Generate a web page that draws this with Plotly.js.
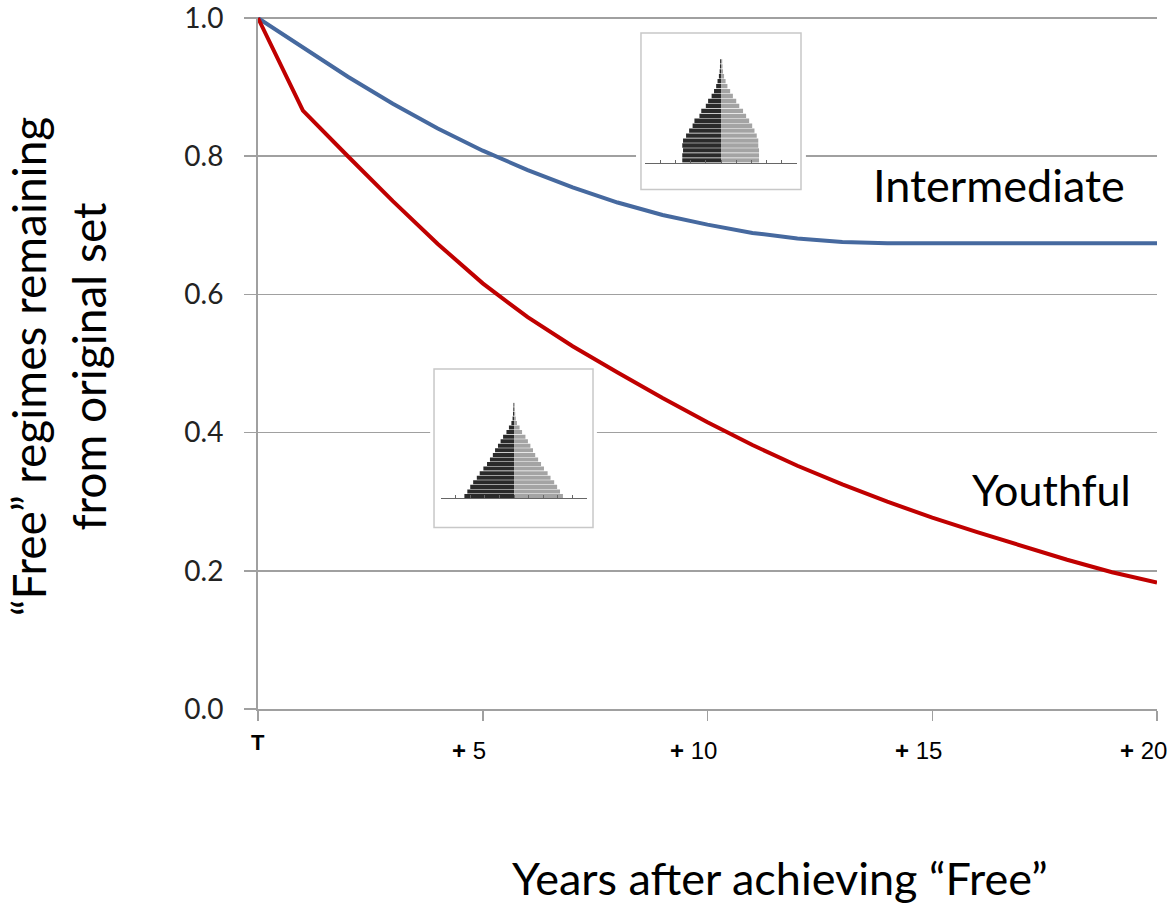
<!DOCTYPE html>
<html>
<head>
<meta charset="utf-8">
<script src="https://cdn.plot.ly/plotly-3.0.1.min.js"></script>
<style>html,body{margin:0;padding:0;background:#fff;}#chart{width:1167px;height:908px;}</style>
</head>
<body>
<div id="chart"></div>
<script>
// ---- Data ----
const years = [0,1,2,3,4,5,6,7,8,9,10,11,12,13,14,15,16,17,18,19,20];
const intermediate = [1.000,0.957,0.915,0.876,0.840,0.808,0.780,0.755,0.733,0.715,0.701,0.689,0.681,0.676,0.674,0.674,0.674,0.674,0.674,0.674,0.674];
const youthful = [1.000,0.866,0.800,0.735,0.673,0.616,0.567,0.525,0.487,0.450,0.415,0.382,0.352,0.325,0.300,0.277,0.256,0.236,0.216,0.198,0.183];
const seriesNames = ['Intermediate','Youthful'];

const xTickVals = [0,5,10,15,20];
const xTickText = ['T','+ 5','+ 10','+ 15','+ 20'];
const yTickVals = [0,0.2,0.4,0.6,0.8,1.0];
const yTickText = ['0.0','0.2','0.4','0.6','0.8','1.0'];

const xTitle = 'Years after achieving \u201cFree\u201d';
const yTitle = '\u201cFree\u201d regimes remaining<br>from original set';

// population pyramids (age groups, bottom to top), share in arbitrary %
const ageGroups = ['0-4','5-9','10-14','15-19','20-24','25-29','30-34','35-39','40-44','45-49','50-54','55-59','60-64','65-69','70-74','75-79','80-84','85-89','90-94','95-99','100+'];
const youthMale   = [3.40,3.20,3.00,2.80,2.55,2.35,2.10,1.85,1.65,1.45,1.30,1.10,0.92,0.75,0.52,0.35,0.18,0.10,0.07,0.05,0.04];
const youthFemale = [3.35,3.15,2.95,2.75,2.50,2.30,2.05,1.85,1.65,1.45,1.30,1.12,0.95,0.78,0.55,0.38,0.20,0.12,0.08,0.06,0.05];
const interMale   = [2.55,2.55,2.50,2.55,2.50,2.30,2.10,1.87,1.75,1.42,1.30,1.00,0.85,0.62,0.46,0.32,0.23,0.14,0.09,0.07,0.06];
const interFemale = [2.50,2.50,2.50,2.45,2.45,2.35,2.20,2.05,1.85,1.65,1.45,1.20,1.00,0.78,0.60,0.42,0.30,0.20,0.13,0.10,0.08];

// ---- Styles ----
const FONT = 'Lato, "Open Sans", sans-serif';
const GRID = '#a0a0a0';
const BLUE = '#46699f';
const RED = '#c00000';
const MALE = '#2a2a2a';
const FEMALE = '#a4a4a4';

const traces = [
  {x: years, y: intermediate, name: seriesNames[0], type: 'scatter', mode: 'lines',
   line: {color: BLUE, width: 4}, xaxis: 'x', yaxis: 'y', hoverinfo: 'x+y+name'},
  {x: years, y: youthful, name: seriesNames[1], type: 'scatter', mode: 'lines',
   line: {color: RED, width: 4}, xaxis: 'x', yaxis: 'y', hoverinfo: 'x+y+name'},
  // youthful pyramid
  {y: ageGroups, x: youthMale.map(v => -v), type: 'bar', orientation: 'h', marker: {color: MALE},
   xaxis: 'x2', yaxis: 'y2', showlegend: false, hoverinfo: 'skip'},
  {y: ageGroups, x: youthFemale, type: 'bar', orientation: 'h', marker: {color: FEMALE},
   xaxis: 'x2', yaxis: 'y2', showlegend: false, hoverinfo: 'skip'},
  // intermediate pyramid
  {y: ageGroups, x: interMale.map(v => -v), type: 'bar', orientation: 'h', marker: {color: MALE},
   xaxis: 'x3', yaxis: 'y3', showlegend: false, hoverinfo: 'skip'},
  {y: ageGroups, x: interFemale, type: 'bar', orientation: 'h', marker: {color: FEMALE},
   xaxis: 'x3', yaxis: 'y3', showlegend: false, hoverinfo: 'skip'}
];

const tickFont = {family: '"Liberation Sans", Arial, sans-serif', size: 24, color: '#000'};
const annotations = xTickText.map((t, i) => ({
  x: xTickVals[i], y: 0, xref: 'x', yref: 'y',
  text: i === 0 ? '<b>' + t + '</b>' : t.replace('+', '<b>+</b>'),
  showarrow: false, xanchor: 'center', yanchor: 'middle',
  xshift: i === 0 ? 0 : -14, yshift: i === 0 ? -33 : -41,
  font: i === 0 ? {family: '"Liberation Sans", Arial, sans-serif', size: 22, color: '#000'} : tickFont
}));

annotations.push(
  {x: 13.64, y: 0.758, xref: 'x', yref: 'y', text: seriesNames[0], showarrow: false,
   xanchor: 'left', yanchor: 'middle', font: {family: FONT, size: 45, color: '#000'}},
  {x: 15.85, y: 0.318, xref: 'x', yref: 'y', text: seriesNames[1], showarrow: false,
   xanchor: 'left', yanchor: 'middle', font: {family: FONT, size: 43, color: '#000'}},
  {x: -0.2215, y: 0.495, xref: 'paper', yref: 'paper', text: yTitle, showarrow: false,
   textangle: -90, xanchor: 'center', yanchor: 'middle', align: 'center',
   font: {family: FONT, size: 46, color: '#000'}},
  {x: 0.5807, y: -0.2435, xref: 'paper', yref: 'paper', text: xTitle, showarrow: false,
   xanchor: 'center', yanchor: 'middle', font: {family: FONT, size: 45, color: '#000'}}
);

const shapes = [
  // white covers behind the insets (hide gridlines)
  {type: 'rect', xref: 'x', yref: 'y', x0: 8.41, x1: 12.19, y0: 0.7446, y1: 0.9856,
   fillcolor: '#fff', line: {width: 0}, layer: 'between'},
  {type: 'rect', xref: 'x', yref: 'y', x0: 3.83, x1: 7.54, y0: 0.2569, y1: 0.4978,
   fillcolor: '#fff', line: {width: 0}, layer: 'between'},
  // inset frames
  {type: 'rect', xref: 'x', yref: 'y', x0: 8.52, x1: 12.08, y0: 0.7518, y1: 0.9784,
   fillcolor: 'rgba(0,0,0,0)', line: {color: '#c8c8c8', width: 1.5}, layer: 'between'},
  {type: 'rect', xref: 'x', yref: 'y', x0: 3.916, x1: 7.453, y0: 0.2626, y1: 0.4921,
   fillcolor: 'rgba(0,0,0,0)', line: {color: '#c8c8c8', width: 1.5}, layer: 'between'}
];

const insetX = {range: [-5, 5], dtick: 1, tick0: 0, showgrid: false, zeroline: false, showticklabels: false,
  ticks: 'inside', ticklen: 3, tickcolor: '#666', showline: true, linecolor: '#666', linewidth: 1, fixedrange: true};
const insetY = {type: 'category', visible: false, showgrid: false, fixedrange: true};

const layout = {
  width: 1167, height: 908,
  margin: {l: 258, r: 10, t: 17, b: 199},
  paper_bgcolor: '#fff', plot_bgcolor: '#fff',
  showlegend: false,
  barmode: 'relative', bargap: 0.12,
  xaxis: {range: [0, 20], tickvals: xTickVals, ticktext: xTickText, showticklabels: false,
    ticks: 'outside', ticklen: 10, tickwidth: 1.5, tickcolor: GRID,
    showline: true, linecolor: GRID, linewidth: 2, showgrid: false, zeroline: false},
  yaxis: {range: [0, 1.0015], tickvals: yTickVals, ticktext: yTickText,
    ticks: 'outside', ticklen: 12, tickwidth: 1.5, tickcolor: GRID, ticklabelstandoff: 15,
    ticklabeloverflow: 'allow',
    tickfont: {family: FONT, size: 28, color: '#222'},
    showline: true, linecolor: GRID, linewidth: 2,
    showgrid: true, gridcolor: GRID, gridwidth: 1.5, zeroline: false},
  xaxis2: Object.assign({domain: [0.2036, 0.366], anchor: 'y2'}, insetX),
  yaxis2: Object.assign({domain: [0.3045, 0.443], anchor: 'x2'}, insetY),
  xaxis3: Object.assign({domain: [0.4305, 0.5996], anchor: 'y3'}, insetX),
  yaxis3: Object.assign({domain: [0.7893, 0.9394], anchor: 'x3'}, insetY),
  shapes: shapes,
  annotations: annotations
};

Plotly.newPlot('chart', traces, layout, {displayModeBar: false, staticPlot: true});
</script>
</body>
</html>
